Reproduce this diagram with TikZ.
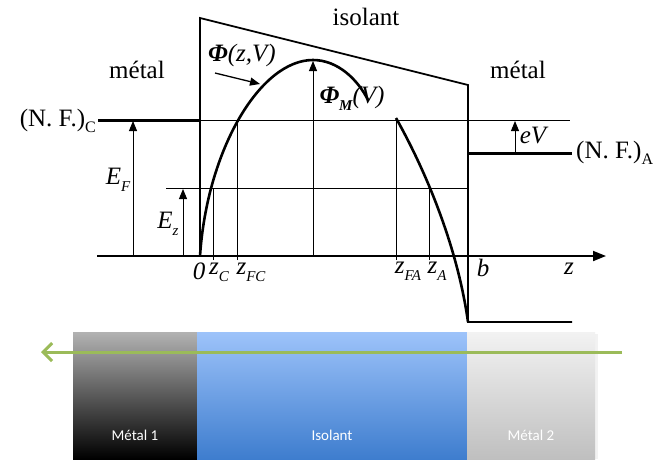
\documentclass[tikz,border=0pt]{standalone}
\usepackage{fontspec}
\setmainfont{Liberation Serif}
\newfontfamily\calib{Carlito}
\usetikzlibrary{arrows.meta}
\definecolor{grn}{HTML}{9BBB59}
\newcommand\isub[2]{#1\raisebox{-0.28em}{\fontsize{15}{16}\selectfont #2}}
\begin{document}
\begin{tikzpicture}[x=1pt,y=-1pt,
  bar/.style={line width=1.8pt},
  curvy/.style={line width=2.6pt},
  fermi/.style={line width=3pt},
  thin/.style={line width=0.9pt},
  upar/.style={line width=0.9pt,-{Triangle[length=10pt,width=8pt]}},
  lbl/.style={font=\fontsize{25}{27}\selectfont,inner sep=0pt},
  mlbl/.style={font=\fontsize{25}{27}\selectfont\itshape,inner sep=0pt},
  blbl/.style={font=\calib\fontsize{15}{17}\selectfont,text=white,inner sep=0pt}]
\useasboundingbox (0,0) rectangle (655,459);
% coordinates
\coordinate (ax0) at (97,256);
\coordinate (ax1) at (606,256);
\coordinate (o) at (200,256);
\coordinate (btop) at (200,18);
\coordinate (rtop) at (468,85);
\coordinate (rbot) at (468,322);
\coordinate (rend) at (572,322);
% axis
\draw[line width=1.8pt,-{Triangle[length=13pt,width=10pt]}] (ax0) -- (ax1);
% barrier
\draw[bar] (o) -- (btop) -- (rtop) -- (rbot) -- (rend);
% Fermi levels
\coordinate (fcL) at (98,120);
\coordinate (fcR) at (200,120);
\coordinate (fcE) at (570,120);
\draw[fermi] (fcL) -- (fcR);
\draw[thin] (fcR) -- (fcE);
\coordinate (faL) at (468,153);
\coordinate (faR) at (572,153);
\draw[fermi] (faL) -- (faR);
% Ez level
\coordinate (ezL) at (166,188);
\coordinate (ezR) at (468,188);
\draw[thin] (ezL) -- (ezR);
% arrows
\coordinate (efB) at (133,256); \coordinate (efT) at (133,121);
\draw[upar] (efB) -- (efT);
\coordinate (ezB) at (183,256); \coordinate (ezT) at (183,189);
\draw[upar] (ezB) -- (ezT);
\coordinate (evB) at (515,153); \coordinate (evT) at (515,121);
\draw[upar] (evB) -- (evT);
\coordinate (pmB) at (313,256); \coordinate (pmT) at (313,61);
\draw[upar] (pmB) -- (pmT);
% vertical thin lines
\coordinate (zc) at (213,260); \coordinate (zcT) at (213,188);
\coordinate (zfc) at (237,260); \coordinate (zfcT) at (237,120);
\coordinate (zfa) at (396,260); \coordinate (zfaT) at (396,118);
\coordinate (za) at (429,260); \coordinate (zaT) at (429,188);
\draw[thin] (zc) -- (zcT);
\draw[thin] (zfc) -- (zfcT);
\draw[thin] (zfa) -- (zfaT);
\draw[thin] (za) -- (zaT);
% curves
\draw[curvy] (o) .. controls (207,150) and (260,60) .. (313,60) .. controls (338,60) and (358,80) .. (368,100);
\draw[curvy] (zfaT) .. controls (428,175) and (458,250) .. (rbot);
% Phi arrow
\coordinate (phA) at (215,73); \coordinate (phB) at (260,84);
\draw[line width=1.3pt,-{Triangle[length=10pt,width=8pt]}] (phA) -- (phB);
% labels
\node[lbl] (iso) at (366,17) {isolant};
\node[lbl] (m1) at (137,70) {métal};
\node[lbl] (m2) at (518,70) {métal};
\node[lbl,anchor=east] (nfc) at (96,121) {(N. F.)\raisebox{-0.25em}{\fontsize{16}{17}\selectfont C}};
\node[lbl,anchor=west] (nfa) at (576,153) {(N. F.)\raisebox{-0.25em}{\fontsize{16}{17}\selectfont A}};
\node[mlbl] (ef) at (118,180) {\isub{E}{F}};
\node[mlbl] (ez) at (168,224) {\isub{E}{z}};
\node[mlbl] (ev) at (533,135) {eV};
\node[mlbl] (phi) at (242,55) {{\bfseries Φ}(z,V)};
\node[mlbl] (phm) at (352,98) {\isub{{\bfseries Φ}}{\bfseries M}(V)};
\node[mlbl] (l0) at (199,271) {0};
\node[mlbl] (lzc) at (219,272) {\isub{z}{C}};
\node[mlbl] (lzfc) at (251,272) {\isub{z}{FC}};
\node[mlbl] (lzfa) at (408,271) {\isub{z}{FA}};
\node[mlbl] (lza) at (437,271) {\isub{z}{A}};
\node[mlbl] (lb) at (483,268) {b};
\node[mlbl] (lz) at (569,269) {z};
% bottom boxes
\fill[black!5] (76,334) rectangle (598,459);
\shade[top color=black!30, bottom color=black] (73,332) rectangle (197,459);
\shade[top color={rgb,255:red,157;green,195;blue,250}, bottom color={rgb,255:red,62;green,125;blue,206}] (197,332) rectangle (467,459);
\shade[top color=black!5, bottom color=black!25] (467,332) rectangle (595,459);
\node[blbl] (b1) at (135,435) {Métal 1};
\node[blbl] (b2) at (332,435) {Isolant};
\node[blbl] (b3) at (531,435) {Métal 2};
\coordinate (gA) at (622,352); \coordinate (gB) at (41,352);
\draw[grn,line width=3pt,-{Straight Barb[length=9pt,width=18pt,line width=3pt]}] (gA) -- (gB);
\end{tikzpicture}
\end{document}
